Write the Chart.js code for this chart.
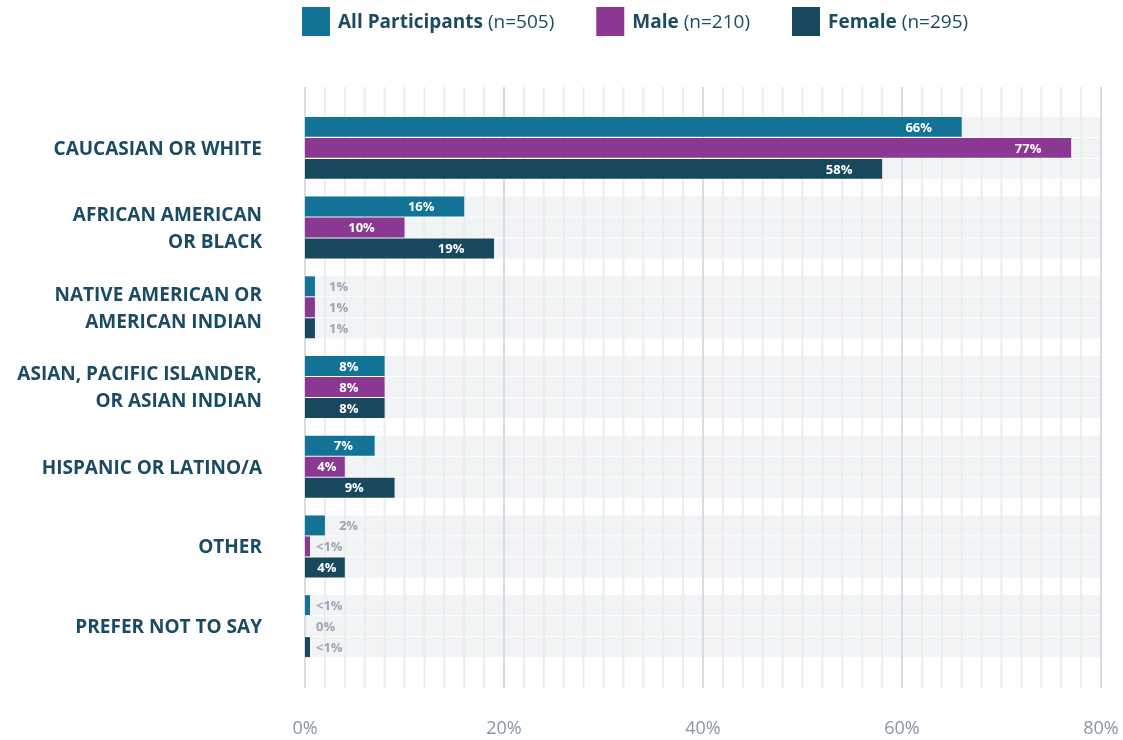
<!DOCTYPE html>
<html>
<head>
<meta charset="utf-8">
<script src="https://cdn.jsdelivr.net/npm/chart.js@4.4.1/dist/chart.umd.min.js"></script>
<style>
  html, body { margin: 0; padding: 0; background: #ffffff; }
  #wrap { width: 1123px; height: 740px; position: relative; }
</style>
</head>
<body>
<div id="wrap"><canvas id="c" width="1123" height="740"></canvas></div>
<script>
// ---- data ----
const categories = [
  ['CAUCASIAN OR WHITE'],
  ['AFRICAN AMERICAN', 'OR BLACK'],
  ['NATIVE AMERICAN OR', 'AMERICAN INDIAN'],
  ['ASIAN, PACIFIC ISLANDER,', 'OR ASIAN INDIAN'],
  ['HISPANIC OR LATINO/A'],
  ['OTHER'],
  ['PREFER NOT TO SAY']
];
const seriesNames = ['All Participants', 'Male', 'Female'];
const seriesN = [505, 210, 295];
const allParticipants = [66, 16, 1, 8, 7, 2, 0.5];
const male = [77, 10, 1, 8, 4, 0.5, 0];
const female = [58, 19, 1, 8, 9, 4, 0.5];
const xTickValues = [0, 20, 40, 60, 80];
const axisMax = 80;

const colors = ['#137396', '#8a3892', '#17485d'];
const textDark = '#1b4b62';
const FONT = "'Open Sans', 'Noto Sans', sans-serif";

function labelText(v) {
  if (v === 0) return '0%';
  if (v < 1) return '<1%';
  return Math.round(v) + '%';
}

// tracks + grid plugin
const backdropPlugin = {
  id: 'backdrop',
  beforeDatasetsDraw(chart) {
    const ctx = chart.ctx;
    const xs = chart.scales.x;
    const x0 = xs.getPixelForValue(0), x1 = xs.getPixelForValue(axisMax);
    ctx.save();
    ctx.fillStyle = '#f1f3f4';
    chart.data.datasets.forEach((ds, i) => {
      const meta = chart.getDatasetMeta(i);
      meta.data.forEach(el => {
        const p = el.getProps(['y', 'height'], true);
        ctx.fillRect(x0, p.y - p.height / 2, x1 - x0, p.height);
      });
    });
    const top = chart.chartArea.top - 21, bottom = chart.chartArea.bottom + 22;
    for (let v = 0; v <= axisMax; v += 2) {
      const x = xs.getPixelForValue(v);
      const major = xTickValues.includes(v);
      ctx.strokeStyle = major ? '#d8dce0' : '#eaedef';
      ctx.lineWidth = 2;
      ctx.beginPath();
      ctx.moveTo(x, top);
      ctx.lineTo(x, bottom);
      ctx.stroke();
    }
    ctx.restore();
  }
};

// value labels plugin
const valueLabelPlugin = {
  id: 'valueLabels',
  afterDatasetsDraw(chart) {
    const ctx = chart.ctx;
    ctx.save();
    ctx.font = "bold 13px " + FONT;
    ctx.textBaseline = 'middle';
    chart.data.datasets.forEach((ds, i) => {
      const meta = chart.getDatasetMeta(i);
      meta.data.forEach((el, j) => {
        const v = ds.data[j];
        const p = el.getProps(['x', 'y', 'base'], true);
        const w = p.x - p.base;
        const t = labelText(v);
        if (w >= 35) {
          ctx.fillStyle = '#ffffff';
          ctx.textAlign = 'center';
          const cx = p.x - Math.min(43, 0.45 * w);
          ctx.fillText(t, cx, p.y + 1);
        } else {
          ctx.fillStyle = '#9ca6b0';
          ctx.textAlign = 'left';
          const lx = w >= 8 ? p.x + 14 : p.base + 11;
          ctx.fillText(t, lx, p.y + 1);
        }
      });
    });
    ctx.restore();
  }
};

// legend plugin
const legendPlugin = {
  id: 'customLegend',
  afterDraw(chart) {
    const ctx = chart.ctx;
    ctx.save();
    let x = 302;
    const boxW = 28, boxH = 29, boxY = 7, textY = 23;
    ctx.textBaseline = 'middle';
    ctx.textAlign = 'left';
    chart.data.datasets.forEach((ds, i) => {
      ctx.fillStyle = ds.backgroundColor;
      ctx.fillRect(x, boxY, boxW, boxH);
      x += boxW + 8;
      ctx.fillStyle = textDark;
      ctx.font = "bold 19px " + FONT;
      ctx.fillText(seriesNames[i], x, textY);
      x += ctx.measureText(seriesNames[i]).width + 5;
      ctx.font = "19px " + FONT;
      const nt = '(n=' + seriesN[i] + ')';
      ctx.fillText(nt, x, textY);
      x += ctx.measureText(nt).width + 42;
    });
    ctx.restore();
  }
};

const datasets = [allParticipants, male, female].map((d, i) => ({
  label: seriesNames[i],
  data: d,
  backgroundColor: colors[i],
  borderWidth: 0,
  categoryPercentage: 0.79,
  barPercentage: 0.95
}));

new Chart(document.getElementById('c'), {
  type: 'bar',
  data: { labels: categories, datasets },
  options: {
    indexAxis: 'y',
    responsive: false,
    animation: false,
    layout: { padding: { top: 108, right: 22, bottom: 0, left: 0 } },
    plugins: { legend: { display: false }, tooltip: { enabled: false } },
    scales: {
      x: {
        type: 'linear',
        min: 0,
        max: axisMax,
        grid: { display: false, drawTicks: false },
        border: { display: false },
        ticks: {
          stepSize: 20,
          autoSkip: false,
          maxRotation: 0,
          padding: 52,
          color: '#8895a3',
          font: { family: FONT, size: 18 },
          callback: (v) => xTickValues.includes(v) ? v + '%' : ''
        },
        afterFit(scale) { scale.height = 74; scale.paddingLeft = 0; scale.paddingRight = 0; }
      },
      y: {
        grid: { display: false, drawTicks: false },
        border: { display: false },
        ticks: {
          color: textDark,
          padding: 43,
          crossAlign: 'near',
          labelOffset: 1.5,
          font: { family: FONT, size: 19, weight: 'bold', lineHeight: 1.42 }
        },
        afterFit(scale) { scale.width = 305; }
      }
    }
  },
  plugins: [backdropPlugin, valueLabelPlugin, legendPlugin]
});
</script>
</body>
</html>
